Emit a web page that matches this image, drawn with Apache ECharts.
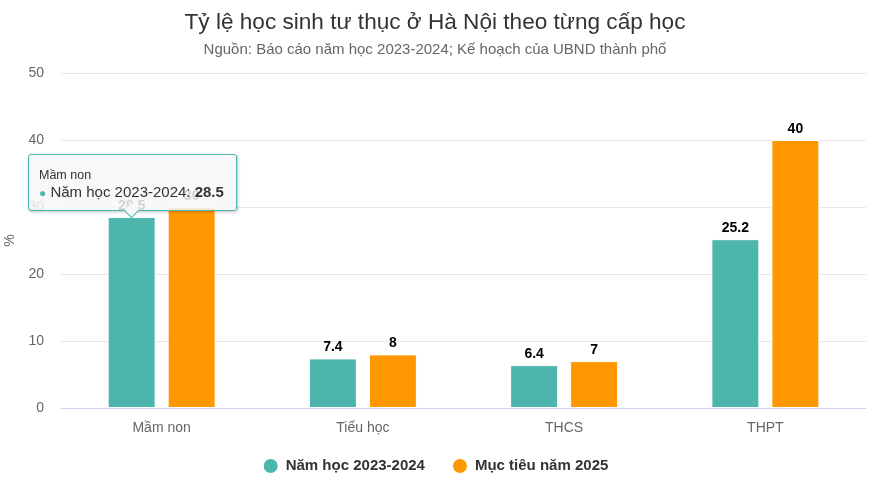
<!DOCTYPE html>
<html>
<head>
<meta charset="utf-8">
<script src="https://cdn.jsdelivr.net/npm/echarts@6/dist/echarts.min.js"></script>
<style>
  html, body { margin: 0; padding: 0; background: #fff; }
  #chart { width: 870px; height: 482px; }
</style>
</head>
<body>
<div id="chart"></div>
<script>
const categories = ['Mầm non', 'Tiểu học', 'THCS', 'THPT'];
const current = [28.5, 7.4, 6.4, 25.2];
const target2025 = [30, 8, 7, 40];
const seriesNames = ['Năm học 2023-2024', 'Mục tiêu năm 2025'];
const colors = ['#4db6ac', '#ff9800'];
const yTicks = { min: 0, max: 50, interval: 10 };

const font = '"Liberation Sans", Arial, Helvetica, sans-serif';

const labelStyle = {
    show: true,
    position: 'top',
    distance: 4,
    fontFamily: font,
    fontSize: 14,
    fontWeight: 'bold',
    color: '#000',
    textBorderColor: '#fff',
    textBorderWidth: 2
};

// little arrow under the tooltip box
const tipArrow = '<div style="position:absolute;left:50%;bottom:-6px;width:10px;height:10px;margin-left:-6px;' +
    'background:#f7f7f7;border-right:1px solid ' + colors[0] + ';border-bottom:1px solid ' + colors[0] + ';transform:rotate(45deg)"></div>';

const option = {
    animation: false,
    textStyle: { fontFamily: font },
    title: {
        text: 'Tỷ lệ học sinh tư thục ở Hà Nội theo từng cấp học',
        subtext: 'Nguồn: Báo cáo năm học 2023-2024; Kế hoạch của UBND thành phố',
        left: 'center',
        top: 6,
        itemGap: 8,
        textStyle: { fontFamily: font, fontSize: 22.6, fontWeight: 'normal', color: '#333' },
        subtextStyle: { fontFamily: font, fontSize: 15, color: '#666' }
    },
    grid: { left: 61, right: 4, top: 73, bottom: 74, containLabel: false, outerBoundsMode: 'none' },
    legend: {
        bottom: 2,
        icon: 'circle',
        itemWidth: 16,
        itemHeight: 16,
        itemGap: 26,
        textStyle: { fontFamily: font, fontSize: 15, fontWeight: 'bold', color: '#333', padding: [0, 0, 0, 2] }
    },
    tooltip: {
        trigger: 'item',
        alwaysShowContent: true,
        position: function (point, params, dom, rect, size) {
            return [rect.x + rect.width / 2 - size.contentSize[0] / 2 + 1, rect.y - size.contentSize[1] - 6];
        },
        backgroundColor: 'rgba(247,247,247,0.85)',
        borderColor: colors[0],
        borderWidth: 1,
        padding: [12, 12, 8, 10],
        extraCssText: 'box-shadow: 1px 1px 3px rgba(0,0,0,0.25); border-radius: 3px;',
        formatter: function (p) {
            return '<div style="font-size:12.5px;color:#333;line-height:16px">' + p.name + '</div>' +
                '<div style="font-size:15px;color:#333;line-height:18px">' +
                '<span style="color:' + p.color + ';font-size:12px">\u25CF</span> ' +
                p.seriesName + ': <b>' + p.value + '</b></div>' + tipArrow;
        }
    },
    xAxis: {
        type: 'category',
        data: categories,
        axisLine: { lineStyle: { color: '#ccd6eb' } },
        axisTick: { show: false },
        axisLabel: { fontFamily: font, fontSize: 14, color: '#666', margin: 13 }
    },
    yAxis: {
        type: 'value',
        min: yTicks.min,
        max: yTicks.max,
        interval: yTicks.interval,
        name: '%',
        nameLocation: 'middle',
        nameGap: 44,
        nameRotate: 90,
        nameMoveOverlap: false,
        nameTextStyle: { fontFamily: font, fontSize: 14, color: '#666' },
        axisLabel: { fontFamily: font, fontSize: 14, color: '#666', margin: 17 },
        splitLine: { lineStyle: { color: '#e6e6e6' } }
    },
    series: [
        {
            name: seriesNames[0],
            type: 'bar',
            data: current,
            barWidth: 48,
            barGap: '25%',
            itemStyle: { color: colors[0], borderColor: '#fff', borderWidth: 1 },
            label: labelStyle
        },
        {
            name: seriesNames[1],
            type: 'bar',
            data: target2025,
            barWidth: 48,
            barGap: '25%',
            itemStyle: { color: colors[1], borderColor: '#fff', borderWidth: 1 },
            label: labelStyle
        }
    ]
};

const myChart = echarts.init(document.getElementById('chart'), null, { renderer: 'canvas' });
myChart.setOption(option);
myChart.dispatchAction({ type: 'showTip', seriesIndex: 0, dataIndex: 0 });
</script>
</body>
</html>
